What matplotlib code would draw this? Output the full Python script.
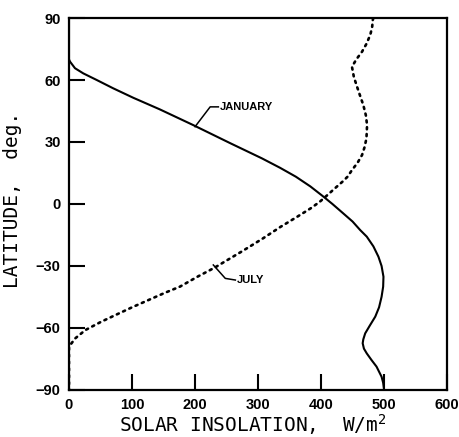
import numpy as np
import matplotlib
matplotlib.use("Agg")
from matplotlib import pyplot as plt

# January curve (solid): latitude, insolation W/m2
jan_lat = [90, 80, 70, 68.9, 65.7, 63.2, 60, 56, 51.4, 45.8, 38.2, 29.4, 22.1, 17.5, 13.2, 8.5, 3.5,
           0, -4.5, -8.5, -12.6, -15.8, -20.5, -25.5, -30, -35.2, -40, -44.9, -50,
           -54.5, -59, -62.6, -65.5, -67.4, -70, -72.3, -75.5, -78.7, -83.6, -86.5, -90]
jan_ins = [0, 0, 0, 1.6, 9.5, 22.7, 44, 70, 102, 144, 197, 256, 306, 335, 360, 383, 404,
           418, 435, 450, 462, 472.5, 483, 491, 496, 499, 498.5, 496, 492,
           486, 477, 470, 467, 466, 468, 472.5, 480, 488, 496, 498.5, 500]

# July curve (dotted)
jul_lat = [90, 89, 85.5, 81.8, 77.5, 73.7, 70, 66.4, 61.5, 56.8, 52.3, 47.9, 43, 38.2, 31.8,
           27.5, 23.7, 20, 16.4, 13.2, 10.8, 8.4, 3.5, 1.1, -2, -6.2, -11, -16.6, -20,
           -23, -27, -31, -35, -40, -43, -46.5, -50, -53.7, -57, -61, -65, -68.2,
           -69.7, -80, -90]
jul_ins = [483, 482, 481, 478, 472, 465, 456, 449, 452, 457, 462, 467, 471, 473, 472,
           469, 465, 458, 449, 442, 434, 425, 407, 398, 384, 362, 336, 308, 290,
           274, 252, 230, 205, 176, 152, 126, 100, 74, 51, 26, 10, 2,
           0, 0, 0]

x_ticks = [0, 100, 200, 300, 400, 500, 600]
y_ticks = [-90, -60, -30, 0, 30, 60, 90]

fig = plt.figure(figsize=(4.6, 4.37), dpi=100)
ax = fig.add_axes([0.15, 0.1076, 0.822, 0.8512])

ax.plot(jan_ins, jan_lat, color="black", lw=1.5)
ax.plot(jul_ins, jul_lat, color="black", lw=1.9, linestyle=(0, (0.8, 1.8)),
        dash_capstyle="round")

# leader lines and labels
ax.plot([200, 224, 237], [37.4, 47, 47], color="black", lw=1.1)
ax.text(239, 47, "JANUARY", fontsize=8, fontweight="bold", va="center", ha="left",
        family="Liberation Sans")
ax.plot([229, 248, 264], [-29.5, -36, -36.8], color="black", lw=1.1)
ax.text(266, -36.8, "JULY", fontsize=8, fontweight="bold", va="center", ha="left",
        family="Liberation Sans")

ax.set_xlim(0, 600)
ax.set_ylim(-90, 90)
ax.set_xticks(x_ticks)
ax.set_yticks(y_ticks)
ax.tick_params(direction="in", length=11.5, width=1.5, pad=6, labelsize=10.5)
for lbl in ax.get_xticklabels() + ax.get_yticklabels():
    lbl.set_fontweight("bold")
    lbl.set_family("Liberation Sans")
for s in ax.spines.values():
    s.set_linewidth(1.6)

ax.set_xlabel(r"SOLAR INSOLATION,  W/m$^{\mathtt{2}}$", fontsize=14, family="DejaVu Sans Mono")
ax.set_ylabel("LATITUDE,  deg.", fontsize=14, family="DejaVu Sans Mono")
ax.xaxis.set_label_coords(0.487, -0.06)
ax.yaxis.set_label_coords(-0.124, 0.51)

fig.savefig("out.png", dpi=100)
